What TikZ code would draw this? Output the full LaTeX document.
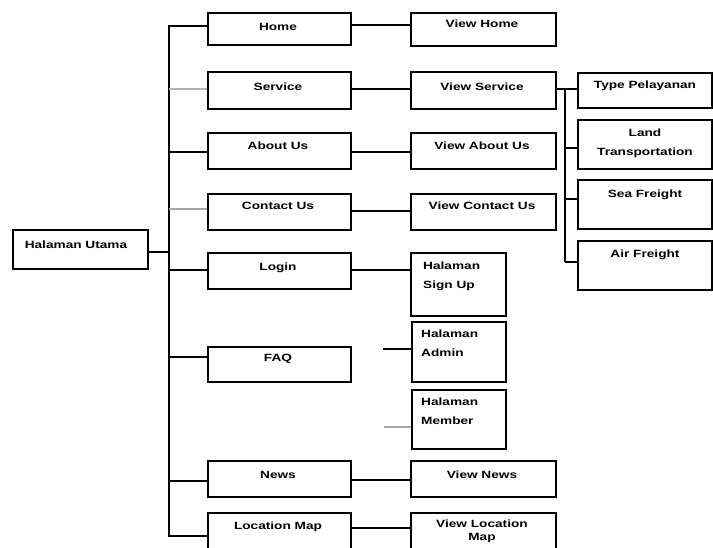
\documentclass[tikz,border=0pt]{standalone}
\usepackage{fontspec}
\setmainfont{Liberation Sans}[FakeStretch=1.3]
\begin{document}
\begin{tikzpicture}[x=1pt,y=-1pt,
  box/.style={draw=black,line width=1.7pt,anchor=north west,inner sep=0pt},
  lbl/.style={inner sep=0pt,font=\bfseries\fontsize{10.5}{19}\selectfont},
  lbll/.style={lbl,anchor=north west,align=left},
  lblc/.style={lbl,anchor=north,align=center},
  wire/.style={draw=black,line width=1.6pt},
  gwire/.style={draw=gray!60,line width=1.6pt},
  gthick/.style={draw=gray!70,line width=2.6pt}]
\useasboundingbox (0,0) rectangle (713,547);
\clip (0,0) rectangle (713,547);
\fill[white] (0,0) rectangle (713,547);
% boxes
\node[box,minimum width=135pt,minimum height=39pt] (root) at (12,229) {};
\node[box,minimum width=143pt,minimum height=32pt] (home) at (207,12) {};
\node[box,minimum width=143pt,minimum height=37pt] (service) at (207,71) {};
\node[box,minimum width=143pt,minimum height=36pt] (about) at (207,132) {};
\node[box,minimum width=143pt,minimum height=36pt] (contact) at (207,193) {};
\node[box,minimum width=143pt,minimum height=36pt] (login) at (207,252) {};
\node[box,minimum width=143pt,minimum height=35pt] (faq) at (207,346) {};
\node[box,minimum width=143pt,minimum height=36pt] (news) at (207,460) {};
\node[box,minimum width=143pt,minimum height=50pt] (loc) at (207,512) {};
\node[box,minimum width=145pt,minimum height=33pt] (vhome) at (410,12) {};
\node[box,minimum width=145pt,minimum height=37pt] (vservice) at (410,71) {};
\node[box,minimum width=145pt,minimum height=36pt] (vabout) at (410,132) {};
\node[box,minimum width=145pt,minimum height=36pt] (vcontact) at (410,193) {};
\node[box,minimum width=95pt,minimum height=63pt] (signup) at (410,252) {};
\node[box,minimum width=94pt,minimum height=60pt] (admin) at (411,321) {};
\node[box,minimum width=94pt,minimum height=59pt] (member) at (411,389) {};
\node[box,minimum width=145pt,minimum height=36pt] (vnews) at (410,460) {};
\node[box,minimum width=145pt,minimum height=50pt] (vloc) at (410,512) {};
\node[box,minimum width=134pt,minimum height=35pt] (type) at (577,72) {};
\node[box,minimum width=134pt,minimum height=49pt] (land) at (577,119) {};
\node[box,minimum width=134pt,minimum height=49pt] (sea) at (577,179) {};
\node[box,minimum width=134pt,minimum height=49pt] (air) at (577,240) {};
% texts
\node[lbl] (root-t) at (76,245) {Halaman Utama};
\node[lbl] (home-t) at (278,27) {Home};
\node[lbl] (service-t) at (278,87) {Service};
\node[lbl] (about-t) at (278,146) {About Us};
\node[lbl] (contact-t) at (278,206) {Contact Us};
\node[lbl] (login-t) at (278,268) {Login};
\node[lbl] (faq-t) at (278,359) {FAQ};
\node[lbl] (news-t) at (278,475) {News};
\node[lbl] (loc-t) at (278,527) {Location Map};
\node[lbl] (vhome-t) at (482,24) {View Home};
\node[lbl] (vservice-t) at (482,87) {View Service};
\node[lbl] (vabout-t) at (482,146) {View About Us};
\node[lbl] (vcontact-t) at (482,206) {View Contact Us};
\node[lbll] (signup-t) at (423,262) {Halaman\\Sign Up};
\node[lbll] (admin-t) at (421,330) {Halaman\\Admin};
\node[lbll] (member-t) at (421,398) {Halaman\\Member};
\node[lbl] (vnews-t) at (482,475) {View News};
\node[lblc,font=\bfseries\fontsize{10.5}{12.5}\selectfont] (vloc-t) at (482,520) {View Location\\Map};
\node[lbl] (type-t) at (645,86) {Type Pelayanan};
\node[lblc] (land-t) at (645,129) {Land\\Transportation};
\node[lbl] (sea-t) at (645,195) {Sea Freight};
\node[lbl] (air-t) at (645,255) {Air Freight};
% trunk
\coordinate (tTop) at (169,26);
\coordinate (tSer) at (169,89);
\coordinate (tAbo) at (169,152);
\coordinate (tCon) at (169,209);
\coordinate (tRoot) at (169,252);
\coordinate (tLog) at (169,270);
\coordinate (tFaq) at (169,357);
\coordinate (tNews) at (169,481);
\coordinate (tBot) at (169,536);
\draw[wire,line join=miter] (home.west |- tTop) -- (tTop) -- (tBot) -- (loc.west |- tBot);
\draw[gwire] (tSer) -- (service.west |- tSer);
\draw[wire] (tAbo) -- (about.west |- tAbo);
\draw[gthick] (tCon) -- (contact.west |- tCon);
\draw[wire] (root.east |- tRoot) -- (tRoot);
\draw[wire] (tLog) -- (login.west |- tLog);
\draw[wire] (tFaq) -- (faq.west |- tFaq);
\draw[wire] (tNews) -- (news.west |- tNews);
% level 1 -> level 2
\coordinate (yHome) at (0,25);
\coordinate (ySer) at (0,89);
\coordinate (yAbo) at (0,152);
\coordinate (yCon) at (0,211);
\coordinate (yLog) at (0,270);
\coordinate (yNews) at (0,480);
\coordinate (yLoc) at (0,528);
\draw[wire] (home.east |- yHome) -- (vhome.west |- yHome);
\draw[wire] (service.east |- ySer) -- (vservice.west |- ySer);
\draw[wire] (about.east |- yAbo) -- (vabout.west |- yAbo);
\draw[wire] (contact.east |- yCon) -- (vcontact.west |- yCon);
\draw[wire] (login.east |- yLog) -- (signup.west |- yLog);
\draw[wire] (news.east |- yNews) -- (vnews.west |- yNews);
\draw[wire] (loc.east |- yLoc) -- (vloc.west |- yLoc);
% short stubs to admin and member
\coordinate (sAdm) at (383,349);
\coordinate (sMem) at (384,427);
\draw[wire] (sAdm) -- (admin.west |- sAdm);
\draw[gthick] (sMem) -- (member.west |- sMem);
% right column
\coordinate (rTop) at (565,89);
\coordinate (rLand) at (565,148);
\coordinate (rSea) at (565,199);
\coordinate (rAir) at (565,262);
\draw[wire] (vservice.east |- rTop) -- (type.west |- rTop);
\draw[wire] (rTop) -- (rAir);
\draw[wire] (rLand) -- (land.west |- rLand);
\draw[wire] (rSea) -- (sea.west |- rSea);
\draw[wire] (rAir) -- (air.west |- rAir);
\end{tikzpicture}
\end{document}
